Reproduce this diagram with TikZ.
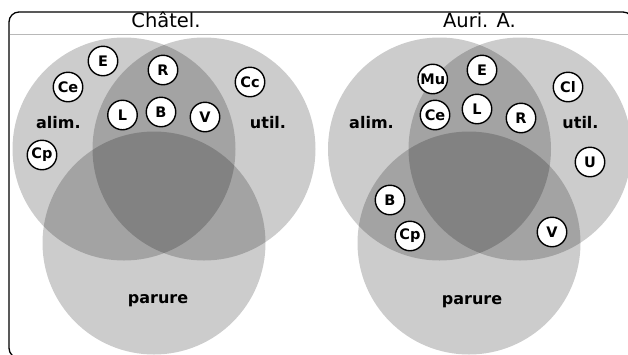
\documentclass[tikz,border=0pt]{standalone}
\usepackage{fontspec}
\setmainfont{DejaVu Sans}
\usepackage{xcolor}
\usetikzlibrary{positioning}

\begin{document}
\begin{tikzpicture}[
  x=1pt, y=-1pt,
  setdisc/.style={fill=black, fill opacity=0.2},
  elem/.style={circle, draw, line width=1.4pt, fill=white, minimum size=29.5pt, inner sep=0pt, font=\fontsize{14.5}{15}\selectfont\bfseries},
  setname/.style={anchor=base, font=\fontsize{16}{17}\selectfont\bfseries},
  title/.style={anchor=base, font=\fontsize{19.5}{21}\selectfont}
]
\useasboundingbox (0,0) rectangle (628,354);
\clip (0,0) rectangle (628,354);
% frame and header
\draw[line width=1.3pt, rounded corners=10pt] (9,12) rectangle (633,358);
\draw[black!28, line width=1.5pt] (9.7,34.3) -- (628,34.3);
\node[title] (tChatel) at (166,27) {Châtel.};
\node[title] (tAuri) at (479.5,27) {Auri. A.};
% left diagram
\fill[setdisc] (124,149) circle[radius=111.5pt];
\fill[setdisc] (204,149) circle[radius=111.5pt];
\fill[setdisc] (154,243) circle[radius=111.5pt];
\node[setname] (lAlim) at (58.4,128.3) {alim.};
\node[setname] (lUtil) at (268,128.3) {util.};
\node[setname] (lParure) at (158,303.7) {parure};
\node[elem] (lE) at (103,61) {E};
\node[elem] (lCe) at (68,87) {Ce};
\node[elem] (lR) at (163,70) {R};
\node[elem] (lCc) at (250,82) {Cc};
\node[elem] (lL) at (122.5,115) {L};
\node[elem] (lB) at (161,112) {B};
\node[elem] (lV) at (205,117) {V};
\node[elem] (lCp) at (42,155) {Cp};
% right diagram
\fill[setdisc] (439.5,149) circle[radius=111.5pt];
\fill[setdisc] (520,149) circle[radius=111.5pt];
\fill[setdisc] (469,243) circle[radius=111.5pt];
\node[setname] (rAlim) at (371.5,128.3) {alim.};
\node[setname] (rUtil) at (580.5,128.3) {util.};
\node[setname] (rParure) at (472,304) {parure};
\node[elem] (rMu) at (432.7,79) {Mu};
\node[elem] (rE) at (482,70) {E};
\node[elem] (rCl) at (568,87) {Cl};
\node[elem] (rCe) at (435,115) {Ce};
\node[elem] (rL) at (477,109) {L};
\node[elem] (rR) at (521,118) {R};
\node[elem] (rU) at (590,162) {U};
\node[elem] (rB) at (390,200) {B};
\node[elem] (rCp) at (410,236) {Cp};
\node[elem] (rV) at (552,232) {V};
\end{tikzpicture}
\end{document}
